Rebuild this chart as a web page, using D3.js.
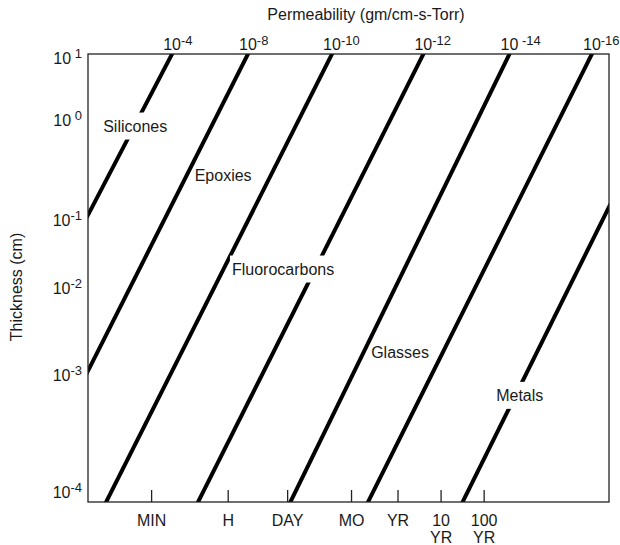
<!DOCTYPE html>
<html>
<head>
<meta charset="utf-8">
<script src="https://cdn.jsdelivr.net/npm/d3@7"></script>
<style>
  body { margin: 0; background: #fff; }
  svg text { font-family: "Liberation Sans", Arial, sans-serif; fill: #1a1a1a; }
</style>
</head>
<body>
<div class="chart"></div>
<script>
// each line: time (s) where it crosses 10 cm and 1e-4 cm of thickness
const permLabels = ["-4", "-8", "-10", "-12", " -14", "-16", null];
const timeAt10cm = [160, 9.3e3, 8.3e5, 1.1e8, 1.1e10, 9e11, 1.3e14];
const timeAt1um = [8.8e-4, 0.076, 6.9, 940, 1.3e5, 8.3e6, 1.3e9];

const thickTicks = [10, 1, 0.1, 0.01, 0.001, 0.0001];
const thickLabels = [" 1", " 0", "-1", "-2", "-3", "-4"];

const timeTicks = [60, 3600, 86400, 2.63e6, 3.156e7, 3.156e8, 3.156e9];
const timeLabels = [["MIN"], ["H"], ["DAY"], ["MO"], ["YR"], ["10", "YR"], ["100", "YR"]];

const materials = ["Silicones", "Epoxies", "Fluorocarbons", "Glasses", "Metals"];
const materialTime = [4.5, 600, 4400, 7.5e6, 6e9];
const materialThick = [0.87, 0.28, 0.019, 0.0018, 6.7e-4];

const width = 620, height = 545;
const plotL = 88, plotR = 609, plotT = 54, plotB = 502;

const svg = d3.select('.chart')
    .append('svg')
    .attr('width', width)
    .attr('height', height);

const x = d3.scaleLog().domain([2, 2.5e12]).range([plotL, plotR]);
// the drawing spaces the thickness decades unevenly, so the scale is piecewise
const y = d3.scaleLog().domain(thickTicks).range([58, 120, 220, 288, 375, 492]);

svg.append('clipPath').attr('id', 'plot')
    .append('rect')
    .attr('x', plotL).attr('y', plotT)
    .attr('width', plotR - plotL).attr('height', plotB - plotT);

const lines = timeAt10cm.map((t, i) => {
    const p1 = [x(t), y(10)];
    const p2 = [x(timeAt1um[i]), y(0.0001)];
    const dx = p2[0] - p1[0], dy = p2[1] - p1[1];
    const len = Math.sqrt(dx * dx + dy * dy);
    const ux = dx / len, uy = dy / len;
    return {
        perm: permLabels[i],
        pts: [[p1[0] - ux * 300, p1[1] - uy * 300], [p2[0] + ux * 300, p2[1] + uy * 300]],
        xAt: yy => p1[0] + (yy - p1[1]) * dx / dy
    };
});

svg.append('g')
    .attr('clip-path', 'url(#plot)')
    .selectAll('path')
    .data(lines)
    .enter()
    .append('path')
    .attr('d', d => d3.line()(d.pts))
    .attr('stroke', '#000')
    .attr('stroke-width', 4)
    .attr('fill', 'none');

// frame and time ticks
svg.append('rect')
    .attr('x', plotL).attr('y', plotT)
    .attr('width', plotR - plotL).attr('height', plotB - plotT)
    .attr('fill', 'none')
    .attr('stroke', '#222')
    .attr('stroke-width', 1.3);

svg.selectAll('.tick')
    .data(timeTicks)
    .enter()
    .append('line')
    .attr('class', 'tick')
    .attr('x1', d => x(d)).attr('x2', d => x(d))
    .attr('y1', plotB).attr('y2', plotB - 12)
    .attr('stroke', '#222')
    .attr('stroke-width', 1.3);

const tl = svg.selectAll('.tlabel')
    .data(timeTicks)
    .enter()
    .append('text')
    .attr('class', 'tlabel')
    .attr('text-anchor', 'middle')
    .attr('font-size', 16);
tl.selectAll('tspan')
    .data((d, i) => timeLabels[i].map(s => ({ s: s, t: d })))
    .enter()
    .append('tspan')
    .attr('x', d => x(d.t))
    .attr('y', (d, j) => 526 + j * 17)
    .text(d => d.s);

// thickness labels
const yl = svg.selectAll('.ylabel')
    .data(thickTicks)
    .enter()
    .append('text')
    .attr('class', 'ylabel')
    .attr('text-anchor', 'end')
    .attr('font-size', 16)
    .attr('x', plotL - 6)
    .attr('y', d => y(d) + 5.5);
yl.append('tspan').text('10');
yl.append('tspan')
    .attr('font-size', 13)
    .attr('dy', -5.5)
    .style('white-space', 'pre')
    .text((d, i) => thickLabels[i]);

// permeability labels over the top of each line
const pl = svg.selectAll('.plabel')
    .data(lines.filter(d => d.perm))
    .enter()
    .append('text')
    .attr('class', 'plabel')
    .attr('font-size', 16)
    .attr('y', 50);
pl.append('tspan').text('10');
pl.append('tspan')
    .attr('font-size', 13)
    .attr('dy', -5.5)
    .style('white-space', 'pre')
    .text(d => d.perm);
pl.attr('x', function(d) {
    const w = this.firstChild.getComputedTextLength();
    return d.xAt(plotT) - w / 2;
});

// material names; where a name sits on a line, a white patch breaks the line
const ml = svg.selectAll('.mlabel')
    .data(materials)
    .enter()
    .append('g')
    .attr('class', 'mlabel');
ml.append('text')
    .attr('font-size', 16)
    .attr('x', (d, i) => x(materialTime[i]))
    .attr('y', (d, i) => y(materialThick[i]) + 5.5)
    .text(d => d);
ml.insert('rect', 'text')
    .each(function() {
        const b = this.parentNode.querySelector('text').getBBox();
        const mid = b.y + b.height / 2;
        const hit = lines.some(l => {
            const lx = l.xAt(mid);
            return lx > b.x && lx < b.x + b.width;
        });
        d3.select(this)
            .attr('x', b.x - 2).attr('y', b.y - 5)
            .attr('width', b.width + 4).attr('height', b.height + 10)
            .attr('fill', hit ? '#fff' : 'none');
    });

svg.append('text')
    .attr('font-size', 16)
    .attr('text-anchor', 'middle')
    .attr('x', 366).attr('y', 20)
    .text('Permeability (gm/cm-s-Torr)');

svg.append('text')
    .attr('font-size', 16)
    .attr('text-anchor', 'middle')
    .attr('transform', 'translate(22,287) rotate(-90)')
    .text('Thickness (cm)');
</script>
</body>
</html>
